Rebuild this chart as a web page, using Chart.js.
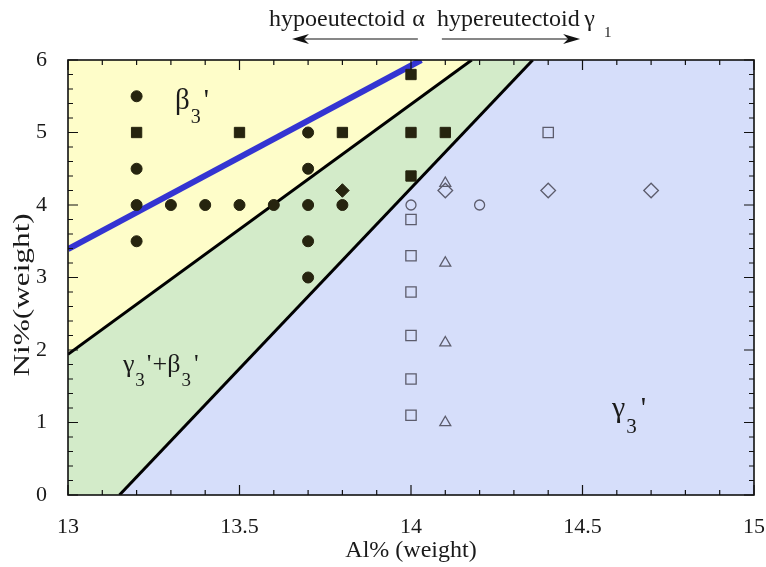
<!DOCTYPE html>
<html lang="en">
<head>
<meta charset="UTF-8">
<title>Al-Ni phase diagram</title>
<style>
  *{ margin:0; padding:0; }
  body{ background:#fff; }
  .chartBox{ width:766px; height:567px; }
</style>
</head>
<body>
<div class="chartBox"><canvas id="myChart"></canvas></div>
<script src="https://cdn.jsdelivr.net/npm/chart.js"></script>
<script>
// filled symbols
const fCircleX = [13.2, 13.2, 13.2, 13.2, 13.3, 13.4, 13.5, 13.6, 13.7, 13.7, 13.7, 13.7, 13.7, 13.8];
const fCircleY = [5.5, 4.5, 4.0, 3.5, 4.0, 4.0, 4.0, 4.0, 5.0, 4.5, 4.0, 3.5, 3.0, 4.0];
const fSquareX = [13.2, 13.5, 13.8, 14.0, 14.0, 14.0, 14.1];
const fSquareY = [5.0, 5.0, 5.0, 5.8, 5.0, 4.4, 5.0];
const fDiamondX = [13.8];
const fDiamondY = [4.2];
// open symbols
const oCircleX = [14.0, 14.2];
const oCircleY = [4.0, 4.0];
const oSquareX = [14.0, 14.0, 14.0, 14.0, 14.0, 14.0, 14.4];
const oSquareY = [3.8, 3.3, 2.8, 2.2, 1.6, 1.1, 5.0];
const oTriX = [14.1, 14.1, 14.1, 14.1];
const oTriY = [4.3, 3.2, 2.1, 1.0];
const oDiamondX = [14.1, 14.4, 14.7];
const oDiamondY = [4.2, 4.2, 4.2];
// boundaries
const blueLineX = [13, 14.03];
const blueLineY = [3.39, 6];
const line1X = [13, 14.177];
const line1Y = [1.94, 6];
const line2X = [13.15, 14.355];
const line2Y = [0, 6];
// axis
const xMin = 13, xMax = 15, yMin = 0, yMax = 6;

const pts = (xs, ys) => xs.map((v, i) => ({x: v, y: ys[i]}));

const dark = '#26240f';
const openCol = '#5c5c6c';

const data = {
  datasets: [
    // markers
    {data: pts(fCircleX, fCircleY), pointStyle: 'circle', pointRadius: 5.5, backgroundColor: dark, borderColor: dark, borderWidth: 1, order: 1},
    {data: pts(fSquareX, fSquareY), pointStyle: 'rect', pointRadius: 7.3, backgroundColor: dark, borderColor: dark, borderWidth: 1, order: 1},
    {data: pts(fDiamondX, fDiamondY), pointStyle: 'rectRot', pointRadius: 6.8, backgroundColor: dark, borderColor: dark, borderWidth: 1, order: 1},
    {data: pts(oCircleX, oCircleY), pointStyle: 'circle', pointRadius: 5, backgroundColor: 'rgba(0,0,0,0)', borderColor: openCol, borderWidth: 1.3, order: 1},
    {data: pts(oSquareX, oSquareY), pointStyle: 'rect', pointRadius: 7.3, backgroundColor: 'rgba(0,0,0,0)', borderColor: openCol, borderWidth: 1.3, order: 1},
    {data: pts(oTriX, oTriY), pointStyle: 'triangle', pointRadius: 6.3, backgroundColor: 'rgba(0,0,0,0)', borderColor: openCol, borderWidth: 1.3, order: 1},
    {data: pts(oDiamondX, oDiamondY), pointStyle: 'rectRot', pointRadius: 7.3, backgroundColor: 'rgba(0,0,0,0)', borderColor: openCol, borderWidth: 1.3, order: 1},
    // boundary lines
    {data: pts(blueLineX, blueLineY), showLine: true, pointRadius: 0, borderColor: '#3434d2', borderWidth: 6, borderCapStyle: 'butt', order: 4},
    {data: pts(line1X, line1Y), showLine: true, pointRadius: 0, borderColor: '#000', borderWidth: 3, order: 5},
    {data: pts(line2X, line2Y), showLine: true, pointRadius: 0, borderColor: '#000', borderWidth: 3, order: 5},
    // phase regions
    {data: pts(line2X.concat([xMax]), line2Y.concat([yMax])), showLine: true, pointRadius: 0, borderWidth: 0, fill: 'start', backgroundColor: '#d6defa', order: 8},
    {data: pts(line1X.concat([xMax]), line1Y.concat([yMax])), showLine: true, pointRadius: 0, borderWidth: 0, fill: 'start', backgroundColor: '#d3ebc9', order: 9},
    {data: pts([xMin, xMax], [yMax, yMax]), showLine: true, pointRadius: 0, borderWidth: 0, fill: 'start', backgroundColor: '#fefdc9', order: 10}
  ]
};

// frame + inward ticks on all four sides
const frame = {
  id: 'frame',
  afterDatasetsDraw(chart) {
    const {ctx, chartArea: a, scales: {x, y}} = chart;
    ctx.save();
    ctx.strokeStyle = '#111';
    ctx.lineWidth = 1.2;
    ctx.beginPath();
    for (let i = 0; i <= 20; i++) {
      const px = x.getPixelForValue(xMin + i * 0.1);
      const len = i % 5 === 0 ? 10 : 5;
      ctx.moveTo(px, a.bottom); ctx.lineTo(px, a.bottom - len);
      ctx.moveTo(px, a.top); ctx.lineTo(px, a.top + len);
    }
    for (let i = 0; i <= 30; i++) {
      const py = y.getPixelForValue(yMin + i * 0.2);
      const len = i % 5 === 0 ? 10 : 5;
      ctx.moveTo(a.left, py); ctx.lineTo(a.left + len, py);
      ctx.moveTo(a.right, py); ctx.lineTo(a.right - len, py);
    }
    ctx.stroke();
    ctx.lineWidth = 1.6;
    ctx.strokeRect(a.left, a.top, a.right - a.left, a.bottom - a.top);
    ctx.restore();
  }
};

// text made of pieces: [text, size, dy, gap]
function drawPieces(ctx, parts, x0, y0) {
  let cx = x0;
  parts.forEach(p => {
    ctx.font = p[1] + 'px "Liberation Serif"';
    ctx.fillText(p[0], cx, y0 + (p[2] || 0));
    cx += ctx.measureText(p[0]).width + (p[3] || 0);
  });
}

const labels = {
  id: 'labels',
  afterDatasetsDraw(chart) {
    const {ctx, scales: {x, y}} = chart;
    ctx.save();
    ctx.fillStyle = '#1a1a1a';
    ctx.textBaseline = 'alphabetic';
    ctx.textAlign = 'left';
    drawPieces(ctx, [['β', 29, 0, 1], ['3', 20, 14, 3], ["'", 29]], x.getPixelForValue(13.312), y.getPixelForValue(5.33));
    drawPieces(ctx, [['γ', 26, 0, 1], ['3', 19, 14, 2], ["'", 26, 0, 1], ['+', 26, 0, 0], ['β', 26, 0, 1], ['3', 19, 14, 3], ["'", 26]], x.getPixelForValue(13.16), y.getPixelForValue(1.70));
    drawPieces(ctx, [['γ', 30, 0, 1], ['3', 21, 16, 4], ["'", 30]], x.getPixelForValue(14.586), y.getPixelForValue(1.08));

    // y axis title, stretched along its length like the original
    ctx.save();
    ctx.translate(23, y.getPixelForValue(2.76));
    ctx.rotate(-Math.PI / 2);
    ctx.scale(1.36, 1);
    ctx.textAlign = 'center';
    ctx.textBaseline = 'middle';
    ctx.font = '23px "Liberation Serif"';
    ctx.fillText('Ni%(weight)', 0, 0);
    ctx.restore();

    // header above the plot
    const hx = v => x.getPixelForValue(v);
    ctx.font = '24px "Liberation Serif"';
    ctx.fillText('hypoeutectoid', hx(13.586), 26);
    ctx.fillText('α', hx(14.004), 26);
    ctx.fillText('hypereutectoid', hx(14.076), 26);
    ctx.fillText('γ', hx(14.505), 26);
    ctx.font = '15px "Liberation Serif"';
    ctx.fillText('1', hx(14.563), 37);

    ctx.strokeStyle = '#111';
    ctx.fillStyle = '#111';
    ctx.lineWidth = 1.2;
    const ay = 39;
    const l0 = hx(13.653), l1 = hx(14.02), r0 = hx(14.09), r1 = hx(14.493);
    ctx.beginPath();
    ctx.moveTo(l0 + 10, ay); ctx.lineTo(l1, ay);
    ctx.moveTo(r0, ay); ctx.lineTo(r1 - 10, ay);
    ctx.stroke();
    ctx.beginPath();
    ctx.moveTo(l0, ay); ctx.lineTo(l0 + 17, ay - 5); ctx.lineTo(l0 + 12, ay); ctx.lineTo(l0 + 17, ay + 5); ctx.closePath();
    ctx.moveTo(r1, ay); ctx.lineTo(r1 - 17, ay - 5); ctx.lineTo(r1 - 12, ay); ctx.lineTo(r1 - 17, ay + 5); ctx.closePath();
    ctx.fill();
    ctx.restore();
  }
};

const config = {
  type: 'scatter',
  data,
  options: {
    responsive: true,
    maintainAspectRatio: false,
    animation: false,
    layout: {padding: {top: 60, right: 12, left: 0, bottom: 0}},
    plugins: {legend: {display: false}, tooltip: {enabled: false}},
    scales: {
      x: {
        type: 'linear', min: xMin, max: xMax,
        grid: {display: false, drawTicks: false}, border: {display: false},
        afterFit: s => { s.height = 72; s.paddingLeft = 0; s.paddingRight = 0; },
        ticks: {stepSize: 0.5, autoSkip: false, maxRotation: 0, padding: 19, color: '#1a1a1a',
          font: {family: 'Liberation Serif', size: 22}, callback: v => String(+v.toFixed(1))},
        title: {display: true, text: 'Al% (weight)', color: '#1a1a1a', padding: {top: 0, bottom: 2}, font: {family: 'Liberation Serif', size: 24}}
      },
      y: {
        type: 'linear', min: yMin, max: yMax,
        grid: {display: false, drawTicks: false}, border: {display: false},
        afterFit: s => { s.width = 68; s.paddingTop = 0; s.paddingBottom = 0; },
        ticks: {stepSize: 1, padding: 21, color: '#1a1a1a', font: {family: 'Liberation Serif', size: 22}},
        title: {display: false, text: 'Ni%(weight)'}
      }
    }
  },
  plugins: [frame, labels]
};

const myChart = new Chart(document.getElementById('myChart'), config);
</script>
</body>
</html>
